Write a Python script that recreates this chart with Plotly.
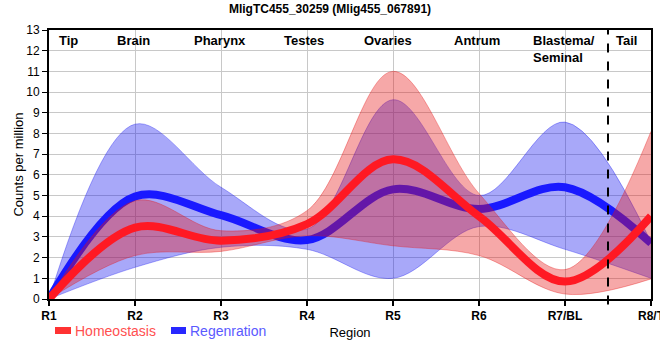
import plotly.graph_objects as go

regions = ["R1", "R2", "R3", "R4", "R5", "R6", "R7/BL", "R8/T"]
tissues = ["Tip", "Brain", "Pharynx", "Testes", "Ovaries", "Antrum", "Blastema/<br>Seminal", "Tail"]
tissue_x = [0.23, 0.98, 1.99, 2.97, 3.94, 4.98, 5.64, 6.72]

homeo = [0, 3.45, 2.82, 3.62, 6.75, 4.0, 0.84, 4.0]
homeo_hi = [0, 4.75, 3.3, 4.27, 11.0, 5.1, 1.42, 8.1]
homeo_lo = [0, 2.1, 2.3, 3.06, 2.57, 2.1, 0.24, 0.97]

regen = [0, 4.95, 4.05, 2.85, 5.3, 4.35, 5.4, 2.7]
regen_hi = [0, 8.45, 5.4, 3.38, 9.63, 5.0, 8.55, 2.75]
regen_lo = [0, 1.53, 2.5, 2.4, 1.0, 3.5, 2.4, 1.0]

x = list(range(len(regions)))
SM = 1.0
FONT = "Liberation Sans, Arial"

fig = go.Figure()

def band(lo, hi, fillc, edgec):
    fig.add_trace(go.Scatter(x=x, y=lo, mode="lines", line=dict(color=edgec, width=0.8, shape="spline", smoothing=SM),
                             showlegend=False, hoverinfo="skip"))
    fig.add_trace(go.Scatter(x=x, y=hi, mode="lines", line=dict(color=edgec, width=0.8, shape="spline", smoothing=SM),
                             fill="tonexty", fillcolor=fillc, showlegend=False, hoverinfo="skip"))

band(regen_lo, regen_hi, "rgba(20,20,240,0.37)", "rgba(20,20,240,0.45)")
fig.add_trace(go.Scatter(x=x, y=regen, mode="lines", name="Regenration",
                         line=dict(color="rgb(25,25,255)", width=8, shape="spline", smoothing=SM), showlegend=False))
band(homeo_lo, homeo_hi, "rgba(230,20,20,0.37)", "rgba(230,20,20,0.45)")
fig.add_trace(go.Scatter(x=x, y=homeo, mode="lines", name="Homeostasis",
                         line=dict(color="rgb(255,25,35)", width=8, shape="spline", smoothing=SM), showlegend=False))

fig.add_shape(type="line", xref="x", yref="paper", x0=6.5, x1=6.5, y0=-0.02, y1=1,
              line=dict(color="black", width=2, dash="dash"))

for t, tx in zip(tissues, tissue_x):
    left = "Blastema" in t
    fig.add_annotation(x=tx, y=1, xref="x", yref="paper", text="<b>%s</b>" % t, showarrow=False,
                       xanchor="left" if left else "center", yanchor="top", align="left",
                       font=dict(family=FONT, size=13, color="black"), yshift=-1,
                       xshift=-3 if left else 0)

# legend (manual)
fig.add_shape(type="rect", xref="paper", yref="paper", x0=(55-49)/602, x1=(71-49)/602,
              y0=-(327-299)/269, y1=-(334-299)/269, fillcolor="rgb(255,50,50)", line=dict(width=0))
fig.add_annotation(x=(73-49)/602, y=-(331-299)/269, xref="paper", yref="paper", text="Homeostasis",
                   showarrow=False, xanchor="left", yanchor="middle",
                   font=dict(family=FONT, size=14, color="rgb(255,80,80)"))
fig.add_shape(type="rect", xref="paper", yref="paper", x0=(171-49)/602, x1=(186-49)/602,
              y0=-(327-299)/269, y1=-(334-299)/269, fillcolor="rgb(40,40,255)", line=dict(width=0))
fig.add_annotation(x=(188-49)/602, y=-(331-299)/269, xref="paper", yref="paper", text="Regenration",
                   showarrow=False, xanchor="left", yanchor="middle",
                   font=dict(family=FONT, size=14, color="rgb(90,90,255)"))

fig.update_layout(
    width=660, height=360,
    margin=dict(l=49, r=9, t=30, b=61, autoexpand=False),
    paper_bgcolor="white", plot_bgcolor="white",
    title=dict(text="<b>MligTC455_30259 (Mlig455_067891)</b>", x=0.5, xanchor="center",
               y=1 - 9 / 360, yanchor="middle", yref="container",
               font=dict(family=FONT, size=12, color="black")),
    showlegend=False,
)
fig.update_xaxes(range=[0, 7], tickvals=x, ticktext=["<b>%s</b>" % r for r in regions],
                 showgrid=True, gridcolor="rgb(200,200,200)", gridwidth=1,
                 showline=True, linecolor="black", linewidth=2, mirror=True,
                 ticks="outside", ticklen=5, tickcolor="black", tickwidth=1.5,
                 tickfont=dict(family=FONT, size=12, color="black"),
                 ticklabeloverflow="allow",
                 title=dict(text="Region", font=dict(family=FONT, size=13, color="black"), standoff=5),
                 zeroline=False, automargin=False)
fig.update_yaxes(range=[0, 13], dtick=1, tick0=0,
                 showgrid=True, gridcolor="rgb(200,200,200)", gridwidth=1,
                 showline=True, linecolor="black", linewidth=2, mirror=True,
                 ticks="outside", ticklen=5, tickcolor="black", tickwidth=1,
                 tickfont=dict(family=FONT, size=12, color="black"),
                 title=dict(text="Counts per million", font=dict(family=FONT, size=13, color="black"), standoff=0),
                 zeroline=False, automargin=False)

fig.write_html("out.html", post_script="document.body.style.margin='0px';",
               config={"displayModeBar": False})
